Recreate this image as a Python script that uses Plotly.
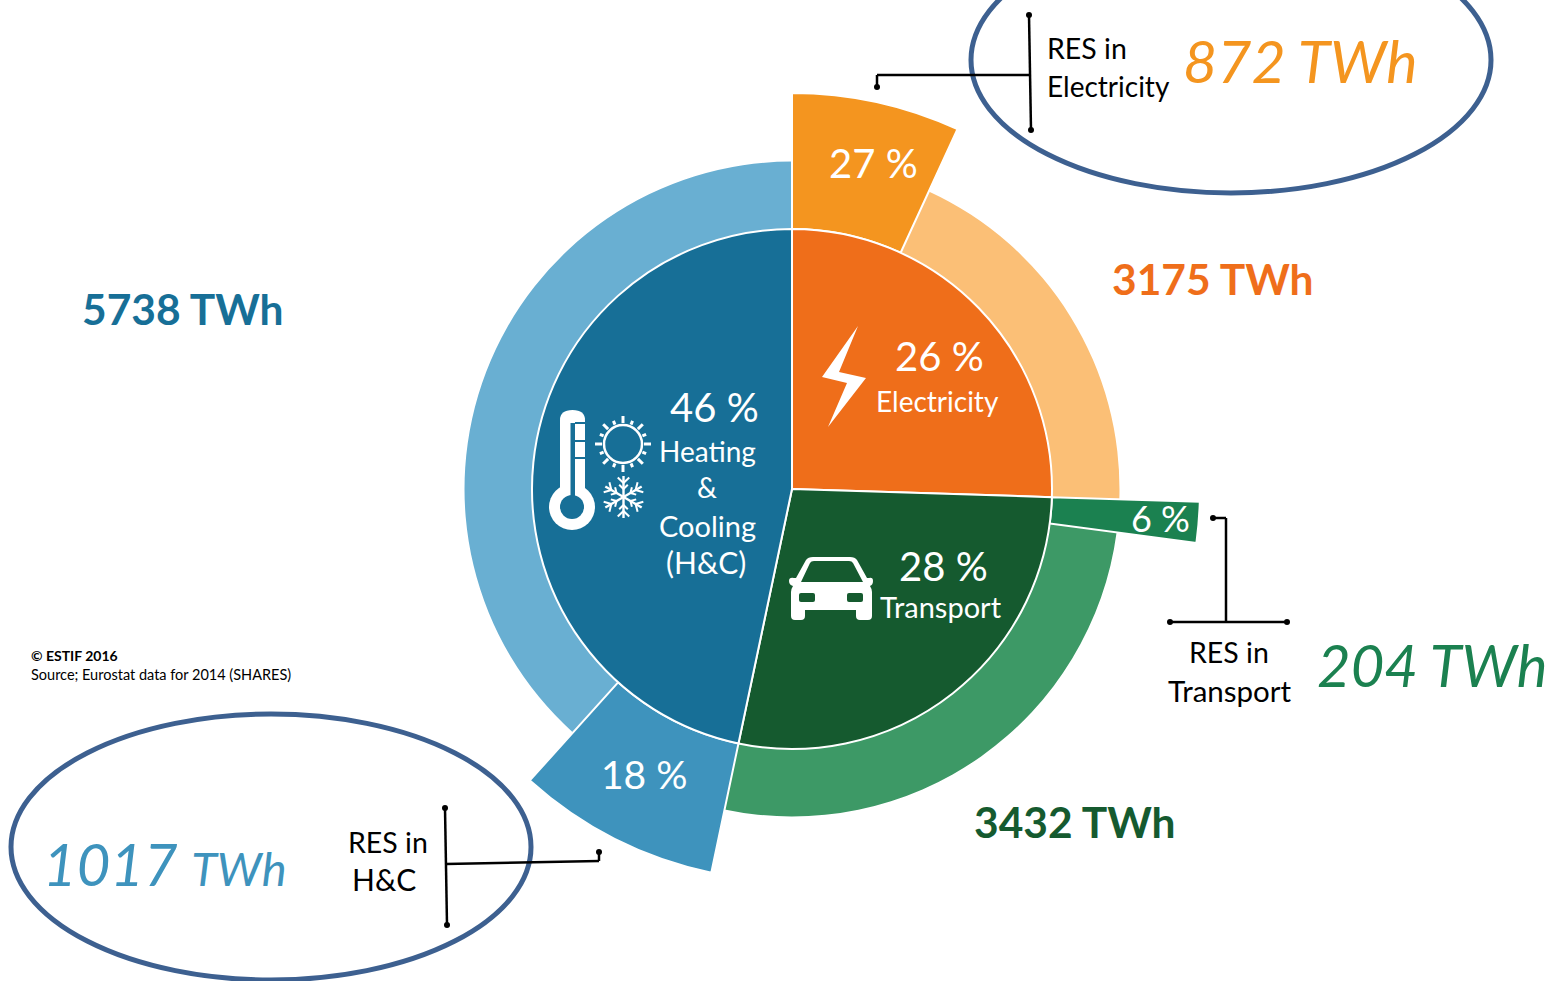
import math
import plotly.graph_objects as go

# ---- data ----
sectors = ["Electricity", "Transport", "Heating & Cooling (H&C)"]
sector_twh = [3175, 3432, 5738]
res_twh = [872, 204, 1017]
sector_pct = ["26 %", "28 %", "46 %"]
res_pct = ["27 %", "6 %", "18 %"]
# shares as drawn in the picture (read from the slice boundaries)
sector_share = [25.5, 27.8, 46.7]
res_share = [26.9, 5.8, 17.9]

# ---- styles ----
W, H = 1558, 981
CX, CY = 792, 489
R_AXIS = 450
R_CORE, R_RING = 260, 327.5
R_RES = [396, 408, 392]
DARK = ["#EF6E1A", "#155A2F", "#176F97"]
LIGHT = ["#FBBF76", "#3D9966", "#69AFD2"]
RES = ["#F4951F", "#1B8150", "#3E93BD"]
TWH_COL = ["#EF6E1A", "#155A2F", "#176F97"]
GILL = "Lato"
CAL = "Lato"

total = sum(sector_share)
core_t, core_w, ring_t, ring_w, res_t, res_w = [], [], [], [], [], []
start = 0.0
for s, r in zip(sector_share, res_share):
    span = 360.0 * s / total
    rspan = span * r / 100.0
    core_t.append(start + span / 2); core_w.append(span)
    res_t.append(start + rspan / 2); res_w.append(rspan)
    ring_t.append(start + rspan + (span - rspan) / 2); ring_w.append(span - rspan)
    start += span

fig = go.Figure()
line = dict(color="white", width=2)
fig.add_trace(go.Barpolar(theta=ring_t, width=ring_w, r=[R_RING - R_CORE] * 3, base=[R_CORE] * 3,
                          marker=dict(color=LIGHT, line=dict(width=0)), name="Total", hoverinfo="skip"))
fig.add_trace(go.Barpolar(theta=res_t, width=res_w, r=[x - R_CORE for x in R_RES], base=[R_CORE] * 3,
                          marker=dict(color=RES, line=line), name="RES", hoverinfo="skip"))
fig.add_trace(go.Barpolar(theta=core_t, width=core_w, r=[R_CORE] * 3, base=[0] * 3,
                          marker=dict(color=DARK, line=line), name="Sector", hoverinfo="skip"))
# invisible trace that anchors the pixel-based overlay axes
fig.add_trace(go.Scatter(x=[0, W], y=[0, H], mode="none", hoverinfo="skip", showlegend=False))

shapes = []
def ln(x0, y0, x1, y1, color="black", width=2.5):
    shapes.append(dict(type="line", x0=x0, y0=y0, x1=x1, y1=y1, xref="x", yref="y",
                       line=dict(color=color, width=width), layer="above"))
def circ(x, y, r, fill="black", color=None, width=0):
    shapes.append(dict(type="circle", x0=x - r, x1=x + r, y0=y - r, y1=y + r, xref="x", yref="y",
                       fillcolor=fill, line=dict(color=color or fill, width=width), layer="above"))
def path(d, fill, color=None, width=0):
    shapes.append(dict(type="path", path=d, xref="x", yref="y", fillcolor=fill,
                       line=dict(color=color or fill, width=width), layer="above"))
def ell(cx, cy, rx, ry):
    shapes.append(dict(type="circle", x0=cx - rx, x1=cx + rx, y0=cy - ry, y1=cy + ry, xref="x", yref="y",
                       fillcolor="rgba(0,0,0,0)", line=dict(color="#3D6090", width=5), layer="above"))

# ellipses
ell(1231, 60, 260, 133)
ell(271, 847, 260, 133)

# connectors
for seg in [(877, 87, 877, 75), (877, 75, 1030, 75), (1029, 15, 1031, 130),
            (1213, 518, 1226, 518), (1226, 518, 1226, 622), (1170, 622, 1287, 622),
            (599, 852, 599, 861), (599, 861, 446, 864), (445, 808, 447, 925)]:
    ln(*seg)
for x, y in [(877, 87), (1029, 15), (1031, 130), (1213, 518), (1170, 622), (1287, 622),
             (599, 852), (445, 808), (447, 925)]:
    circ(x, y, 3)

# lightning
path("M858,326 L822,377 L847,383 L828,427 L866,378 L839,372 Z", "white")

# thermometer
path("M560,490 L560,420 Q560,410 572.5,410 Q585,410 585,420 L585,490 Z", "white")
circ(572, 507, 23, "white")
circ(572, 507, 12, DARK[2])
path("M570.5,423 L575,423 L575,500 L570.5,500 Z", DARK[2])
for y in (423, 441, 458):
    ln(575, y, 585, y, DARK[2], 2)

# sun
circ(623, 444, 19, "rgba(0,0,0,0)", "white", 2.5)
for i in range(16):
    a = i * math.pi / 8
    r1, r0 = (28 if i % 2 == 0 else 25), 21
    ln(623 + r0 * math.cos(a), 444 + r0 * math.sin(a), 623 + r1 * math.cos(a), 444 + r1 * math.sin(a), "white", 3)

# snowflake
for i in range(6):
    a = i * math.pi / 3 + math.pi / 2
    ca, sa = math.cos(a), math.sin(a)
    ln(623.5, 497, 623.5 + 21 * ca, 497 + 21 * sa, "white", 2.4)
    for rb, blen in ((14, 8), (8, 6)):
        for d in (-0.8, 0.8):
            ln(623.5 + rb * ca, 497 + rb * sa, 623.5 + rb * ca + blen * math.cos(a + d),
               497 + rb * sa + blen * math.sin(a + d), "white", 2)

# car
path("M796,578 L806,560 Q808,557 813,557 L850,557 Q855,557 857,560 L867,578 L869,578 "
     "Q873,577 873,581 Q873,585 870,586 Q872,589 872,592 L872,616 Q872,620 868,620 L860,620 Q856,620 856,616 "
     "L856,610 L805,610 L805,616 Q805,620 801,620 L795,620 Q791,620 791,616 L791,592 Q791,589 793,586 "
     "Q789,585 789,581 Q789,577 794,578 Z", "white")
path("M801,582 L810,563 Q811,561 814,561 L849,561 Q852,561 853,563 L863,582 Z", DARK[1])
for x0, x1 in [(799, 815), (847, 863)]:
    path(f"M{x0+2},593 L{x1-2},593 Q{x1},593 {x1},595 L{x1},600 Q{x1},602 {x1-2},602 L{x0+2},602 Q{x0},602 {x0},600 L{x0},595 Q{x0},593 {x0+2},593 Z", DARK[1])

ann = []
def t(x, y, text, size, color="white", family=GILL, anchor="center"):
    ann.append(dict(x=x, y=y, xref="x", yref="y", text=text, showarrow=False, xanchor=anchor, yanchor="middle",
                    font=dict(size=size, color=color, family=family), align="center"))

# percentages
t(873, 163, res_pct[0], 40)
t(939, 356, sector_pct[0], 40)
t(943, 566, sector_pct[1], 40)
t(714, 407, sector_pct[2], 40)
t(1160, 518, res_pct[1], 36)
t(644, 774, res_pct[2], 39)
# sector names
t(937, 401, "Electricity", 28)
t(941, 606, "Transport", 29)
t(707, 451, "Heating", 28)
t(707, 487, "&", 28)
t(707, 525, "Cooling", 29)
t(706, 562, "(H&C)", 30)
# black labels
t(1045, 48, "RES in", 28.5, "black", anchor="left")
t(1045, 86, "Electricity", 28, "black", anchor="left")
t(1229, 652, "RES in", 28.5, "black")
t(1230, 690, "Transport", 29.5, "black")
t(388, 842, "RES in", 28.5, "black")
t(384, 879, "H&C", 30, "black")
# TWh totals
t(1212, 278, f"<b>{sector_twh[0]} TWh</b>", 42.5, TWH_COL[0], CAL)
t(1074, 821, f"<b>{sector_twh[1]} TWh</b>", 42.5, TWH_COL[1], CAL)
t(182, 308, f"<b>{sector_twh[2]} TWh</b>", 42.5, TWH_COL[2], CAL)
# RES TWh
t(1300, 60, f"<i>{res_twh[0]} TWh</i>", 59, RES[0], CAL)
t(1432, 664, f"<i>{res_twh[1]} TWh</i>", 58, RES[1], CAL)
t(165, 863, f"<i>{res_twh[2]} <span style='font-size:47px'>TWh</span></i>", 58, RES[2], CAL)
# source
t(29, 655, "<b>© ESTIF 2016</b>", 14, "black", CAL, "left")
t(29, 674, "Source; Eurostat data for 2014 (SHARES)", 14.5, "black", CAL, "left")

fig.update_layout(
    width=W, height=H, margin=dict(l=0, r=0, t=0, b=0), showlegend=False,
    paper_bgcolor="white", plot_bgcolor="rgba(0,0,0,0)",
    xaxis=dict(range=[0, W], domain=[0, 1], visible=False, fixedrange=True),
    yaxis=dict(range=[H, 0], domain=[0, 1], visible=False, fixedrange=True),
    polar=dict(
        domain=dict(x=[(CX - R_AXIS) / W, (CX + R_AXIS) / W],
                    y=[(H - CY - R_AXIS) / H, (H - CY + R_AXIS) / H]),
        bgcolor="rgba(0,0,0,0)",
        radialaxis=dict(range=[0, R_AXIS], visible=False),
        angularaxis=dict(direction="clockwise", rotation=90, visible=False),
        barmode="overlay",
    ),
    shapes=shapes, annotations=ann,
)
fig.write_html("out.html", config=dict(displayModeBar=False),
               post_script="document.body.style.margin='0';document.body.style.overflow='hidden';")
